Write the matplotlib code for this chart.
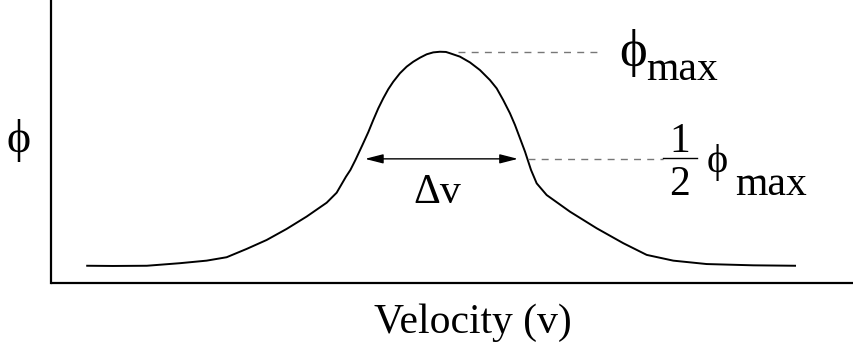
import matplotlib
matplotlib.use('Agg')
import matplotlib.pyplot as plt
import numpy as np

# line profile: velocity (arbitrary units, peak near 0)
# and phi as a fraction of its maximum
velocity = [-4.434, -4.113, -3.688, -3.275, -2.941, -2.691, -2.441, -2.191,
            -1.941, -1.691, -1.441, -1.316, -1.200, -1.144, -1.081, -0.994,
            -0.921, -0.859, -0.796, -0.734, -0.671, -0.609, -0.525, -0.441,
            -0.359, -0.275, -0.191, -0.109, -0.025, 0.050, 0.100, 0.225,
            0.350, 0.475, 0.600, 0.684, 0.766, 0.850, 0.913, 0.975, 1.038,
            1.079, 1.113, 1.184, 1.309, 1.600, 1.934, 2.266, 2.559, 2.891,
            3.309, 3.891, 4.413]
phi = [0.001, 0.000, 0.001, 0.013, 0.025, 0.041, 0.080, 0.122,
       0.174, 0.232, 0.297, 0.344, 0.419, 0.451, 0.498, 0.568,
       0.628, 0.685, 0.740, 0.787, 0.830, 0.865, 0.905, 0.936,
       0.959, 0.978, 0.994, 1.003, 1.006, 1.005, 0.999, 0.983,
       0.956, 0.920, 0.873, 0.834, 0.779, 0.717, 0.662, 0.600, 0.537,
       0.490, 0.451, 0.388, 0.333, 0.255, 0.177, 0.107, 0.052, 0.025,
       0.009, 0.003, 0.001]
arrow_ends = [-0.9625, 0.95]
guide_max = [0.2, 1.975]
guide_half = [1.075, 2.7625]

PHI = '\u03d5'
fnt = ['Liberation Serif', 'DejaVu Serif']

fig = plt.figure(figsize=(8.54, 3.51), dpi=100)
ax = fig.add_axes([51.5/854, 68/351, 1 - 51.5/854, 283/351])
ax.plot(velocity, phi, color='black', linewidth=1.4, solid_joinstyle='round')
ax.set_xlim(-4.88, 5.15)
ax.set_ylim(-0.080, 1.249)
ax.set_xticks([])
ax.set_yticks([])
for s in ['top', 'right']:
    ax.spines[s].set_visible(False)
for s in ['left', 'bottom']:
    ax.spines[s].set_linewidth(1.6)

pmax = max(phi)
half = pmax / 2

# dashed guides
ax.plot(guide_max, [pmax, pmax], color='#777777',
        linewidth=1.0, linestyle=(0, (5, 4.5)))
ax.plot(guide_half, [half, half], color='#777777',
        linewidth=1.0, linestyle=(0, (5, 4.5)))

# width arrow
ax.annotate('', xy=(arrow_ends[1], half), xytext=(arrow_ends[0], half),
            arrowprops=dict(arrowstyle='<|-|>,head_length=1.1,head_width=0.28',
                            color='black', linewidth=1.0,
                            shrinkA=0, shrinkB=0))
ax.text(-0.06, 0.296, '\u0394v', family=fnt, fontsize=30,
        ha='center', va='baseline')

# labels on the right
ax.text(2.2125, 1.002, PHI, family=fnt, fontsize=38, ha='left', va='center')
ax.text(2.55, 0.873, 'max', family=fnt, fontsize=30, ha='left', va='baseline')
ax.text(2.975, 0.535, '1', family=fnt, fontsize=30, ha='center', va='baseline')
ax.text(2.975, 0.333, '2', family=fnt, fontsize=30, ha='center', va='baseline')
ax.plot([2.7625, 3.1875], [0.507, 0.507], color='black', linewidth=1.0,
        clip_on=False)
ax.text(3.3125, 0.488, PHI, family=fnt, fontsize=29, ha='left', va='center')
ax.text(3.6625, 0.333, 'max', family=fnt, fontsize=30, ha='left', va='baseline')

# axis labels
ax.text(-5.29, 0.589, PHI, family=fnt, fontsize=33, ha='center', va='center',
        clip_on=False)
ax.text(0.3875, -0.315, 'Velocity (v)', family=fnt, fontsize=30,
        ha='center', va='baseline', clip_on=False)

plt.savefig('out.png', dpi=100)
